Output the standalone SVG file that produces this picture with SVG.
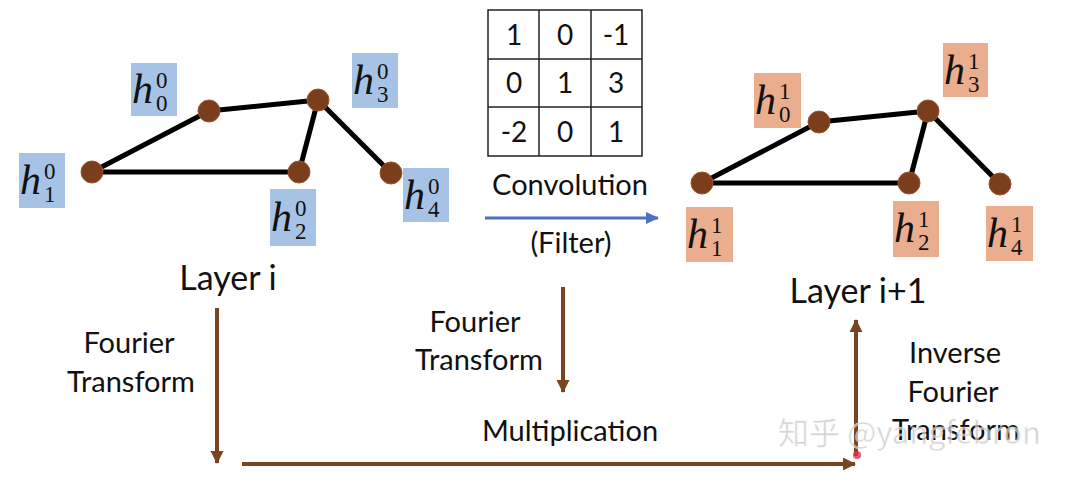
<svg xmlns="http://www.w3.org/2000/svg" width="1080" height="482" viewBox="0 0 1080 482">
<defs>
<style>
.edge{stroke:#000;stroke-width:5;stroke-linecap:round}
.node{fill:#7a3e1c;stroke:#a0522d;stroke-width:1}
.bl{fill:#a6c3e6}
.or{fill:#eaad8d}
.hv{font-family:"Liberation Serif",serif;font-style:italic;font-size:42px;fill:#111}
.dg{font-family:"Liberation Serif",serif;font-size:23px;fill:#111}
.tx{font-family:Lato,"Open Sans","Liberation Sans",sans-serif;font-size:29px;fill:#111;text-anchor:middle}
.lay{font-family:Lato,"Open Sans","Liberation Sans",sans-serif;font-size:34px;fill:#111;text-anchor:middle}
.num{font-family:Lato,"Open Sans","Liberation Sans",sans-serif;font-size:28px;fill:#111;text-anchor:middle}
.grid{fill:none;stroke:#222;stroke-width:1.5}
.brown{stroke:#7a4321;stroke-width:4;fill:none}
.blue{stroke:#4a72c0;stroke-width:3;fill:none}
.wm{font-family:"Noto Sans CJK SC","Liberation Sans",sans-serif;font-size:31px;fill:#c8c8c8;opacity:0.75;stroke:#ffffff;stroke-width:0.5}
</style>
<marker id="ab" markerUnits="userSpaceOnUse" markerWidth="14" markerHeight="14" viewBox="0 0 14 14" refX="12" refY="7" orient="auto">
<path d="M0,0.5 L13,7 L0,13.5 Z" fill="#7a4321"/>
</marker>
<marker id="ablue" markerUnits="userSpaceOnUse" markerWidth="14" markerHeight="14" viewBox="0 0 14 14" refX="12" refY="7" orient="auto">
<path d="M0,1 L13,7 L0,13 Z" fill="#4a72c0"/>
</marker>
</defs>
<rect width="1080" height="482" fill="#ffffff"/>

<g id="edges-left">
<line class="edge" x1="92" y1="172" x2="209" y2="111"/>
<line class="edge" x1="209" y1="111" x2="318" y2="100"/>
<line class="edge" x1="318" y1="100" x2="299" y2="172"/>
<line class="edge" x1="318" y1="100" x2="391" y2="173"/>
<line class="edge" x1="92" y1="172" x2="299" y2="172"/>
</g>
<g id="edges-right">
<line class="edge" x1="702" y1="183" x2="819" y2="122"/>
<line class="edge" x1="819" y1="122" x2="928" y2="111"/>
<line class="edge" x1="928" y1="111" x2="909" y2="183"/>
<line class="edge" x1="928" y1="111" x2="1000" y2="184"/>
<line class="edge" x1="702" y1="183" x2="909" y2="183"/>
</g>

<g id="node-l0"><circle class="node" cx="209" cy="111" r="11"/><rect class="bl" x="131" y="63" width="46" height="53"/><text class="hv" x="132" y="103">h</text><text class="dg" x="156" y="88">0</text><text class="dg" x="156" y="111">0</text></g>
<g id="node-l1"><circle class="node" cx="92" cy="172" r="11"/><rect class="bl" x="19" y="153" width="46" height="55"/><text class="hv" x="20" y="194">h</text><text class="dg" x="44" y="179">0</text><text class="dg" x="44" y="202">1</text></g>
<g id="node-l2"><circle class="node" cx="299" cy="172" r="11"/><rect class="bl" x="270" y="189" width="46" height="57"/><text class="hv" x="271" y="231">h</text><text class="dg" x="295" y="216">0</text><text class="dg" x="295" y="239">2</text></g>
<g id="node-l3"><circle class="node" cx="318" cy="100" r="11"/><rect class="bl" x="352" y="53" width="46" height="55"/><text class="hv" x="353" y="94">h</text><text class="dg" x="377" y="79">0</text><text class="dg" x="377" y="102">3</text></g>
<g id="node-l4"><circle class="node" cx="391" cy="173" r="11"/><rect class="bl" x="403" y="168" width="46" height="54"/><text class="hv" x="404" y="209">h</text><text class="dg" x="428" y="194">0</text><text class="dg" x="428" y="217">4</text></g>

<g id="node-r0"><circle class="node" cx="819" cy="122" r="11"/><rect class="or" x="754" y="73" width="47" height="55"/><text class="hv" x="755" y="114">h</text><text class="dg" x="779" y="99">1</text><text class="dg" x="779" y="122">0</text></g>
<g id="node-r1"><circle class="node" cx="702" cy="183" r="11"/><rect class="or" x="686" y="207" width="47" height="55"/><text class="hv" x="687" y="248">h</text><text class="dg" x="711" y="233">1</text><text class="dg" x="711" y="256">1</text></g>
<g id="node-r2"><circle class="node" cx="909" cy="183" r="11"/><rect class="or" x="893" y="201" width="46" height="56"/><text class="hv" x="894" y="242">h</text><text class="dg" x="918" y="227">1</text><text class="dg" x="918" y="250">2</text></g>
<g id="node-r3"><circle class="node" cx="928" cy="111" r="11"/><rect class="or" x="943" y="43" width="45" height="54"/><text class="hv" x="944" y="84">h</text><text class="dg" x="968" y="69">1</text><text class="dg" x="968" y="92">3</text></g>
<g id="node-r4"><circle class="node" cx="1000" cy="184" r="11"/><rect class="or" x="986" y="206" width="47" height="55"/><text class="hv" x="987" y="247">h</text><text class="dg" x="1011" y="232">1</text><text class="dg" x="1011" y="255">4</text></g>

<g id="filter">
<rect class="grid" x="488" y="10" width="154" height="146"/>
<line class="grid" x1="539" y1="10" x2="539" y2="156"/>
<line class="grid" x1="591" y1="10" x2="591" y2="156"/>
<line class="grid" x1="488" y1="59" x2="642" y2="59"/>
<line class="grid" x1="488" y1="107" x2="642" y2="107"/>
<text class="num" x="514" y="45">1</text><text class="num" x="565" y="45">0</text><text class="num" x="616" y="45">-1</text>
<text class="num" x="514" y="93">0</text><text class="num" x="565" y="93">1</text><text class="num" x="616" y="93">3</text>
<text class="num" x="514" y="142">-2</text><text class="num" x="565" y="142">0</text><text class="num" x="616" y="142">1</text>
</g>

<g id="labels">
<text class="tx" x="570" y="195">Convolution</text>
<text class="tx" x="571" y="253">(Filter)</text>
<text class="lay" x="228" y="290">Layer i</text>
<text class="lay" x="858" y="303">Layer i+1</text>
<text class="tx" x="129" y="353">Fourier</text>
<text class="tx" x="131" y="392">Transform</text>
<text class="tx" x="475" y="332">Fourier</text>
<text class="tx" x="479" y="370">Transform</text>
<text class="tx" x="570" y="441">Multiplication</text>
<text class="tx" x="955" y="363">Inverse</text>
<text class="tx" x="953" y="402">Fourier</text>
<text class="tx" x="956" y="440">Transform</text>
</g>

<g id="connectors">
<line class="blue" x1="485" y1="218" x2="658" y2="218" marker-end="url(#ablue)"/>
<line class="brown" x1="217" y1="308" x2="217" y2="463" marker-end="url(#ab)"/>
<line class="brown" x1="563" y1="287" x2="563" y2="392" marker-end="url(#ab)"/>
<line class="brown" x1="242" y1="464" x2="855" y2="464" marker-end="url(#ab)"/>
<line class="brown" x1="856" y1="456" x2="856" y2="320" marker-end="url(#ab)"/>
</g>

<g id="watermark">
<text class="wm" x="778" y="444">知乎 @yangfebron</text>
<circle cx="857" cy="455" r="4" fill="#e0304a" opacity="0.8"/>
</g>
</svg>
